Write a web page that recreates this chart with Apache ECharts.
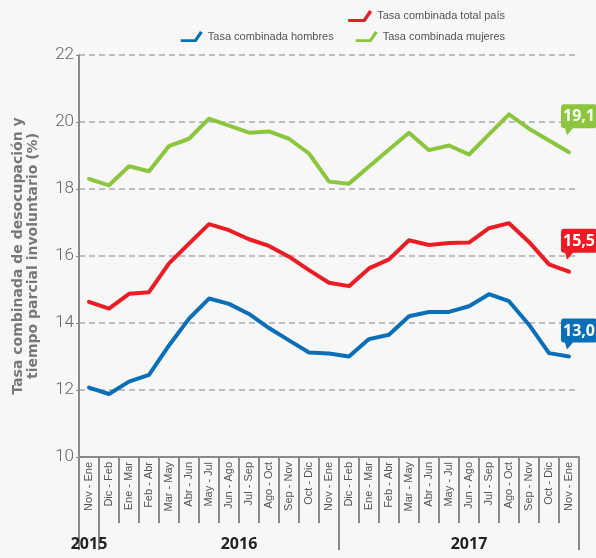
<!DOCTYPE html>
<html lang="es">
<head>
    <meta charset="UTF-8">
    <title>Tasa combinada</title>
    <script type="text/javascript" src="https://cdn.jsdelivr.net/npm/echarts@6/dist/echarts.min.js"></script>
    <style>
        html, body { margin: 0; padding: 0; background: #f7f7f7; }
        #chart { width: 596px; height: 558px; }
    </style>
</head>
<body>
<div id="chart"></div>
<script type="text/javascript">
    // periodos moviles (trimestres)
    var periodos = ['Nov - Ene', 'Dic - Feb', 'Ene - Mar', 'Feb - Abr', 'Mar - May', 'Abr - Jun', 'May - Jul',
        'Jun - Ago', 'Jul - Sep', 'Ago - Oct', 'Sep - Nov', 'Oct - Dic', 'Nov - Ene',
        'Dic - Feb', 'Ene - Mar', 'Feb - Abr', 'Mar - May', 'Abr - Jun', 'May - Jul',
        'Jun - Ago', 'Jul - Sep', 'Ago - Oct', 'Sep - Nov', 'Oct - Dic', 'Nov - Ene'];

    var total = [14.63, 14.43, 14.87, 14.92, 15.78, 16.37, 16.95, 16.77, 16.5, 16.3, 15.98, 15.58, 15.2,
        15.1, 15.63, 15.9, 16.47, 16.33, 16.39, 16.4, 16.83, 16.98, 16.42, 15.75, 15.53];
    var hombres = [12.07, 11.88, 12.25, 12.45, 13.33, 14.13, 14.73, 14.57, 14.27, 13.85, 13.48, 13.12, 13.09,
        13.0, 13.52, 13.65, 14.2, 14.33, 14.33, 14.5, 14.86, 14.65, 13.95, 13.1, 13.0];
    var mujeres = [18.3, 18.11, 18.68, 18.53, 19.28, 19.5, 20.1, 19.89, 19.68, 19.72, 19.5, 19.06, 18.22,
        18.16, 18.67, 19.18, 19.68, 19.16, 19.3, 19.03, 19.63, 20.23, 19.8, 19.45, 19.1];

    var years = ['2015', '2016', '2017'];
    var yearStart = [0, 1, 13];   // indice donde empieza cada año
    var yearLabelAt = [0, 7, 19]; // indice donde va el texto del año

    var gris = '#8a8a8a';
    var fuenteAngosta = '"Liberation Sans Narrow", "Liberation Sans", sans-serif';

    var yearRow = periodos.map(function (p, i) {
        var k = yearLabelAt.indexOf(i);
        return k >= 0 ? years[k] : '';
    });

    // globo con cola abajo a la izquierda
    var globo = 'path://M3,0 H33 Q36,0 36,3 V21 Q36,24 33,24 H12 L6,31 L4,24 H3 Q0,24 0,21 V3 Q0,0 3,0 Z';
    var iconoLinea = 'path://M0,10 L15,10 L21,1 L24,3 L17,13 L0,13 Z';

    function etiquetaFinal(data, tip) {
        var last = data.length - 1;
        return {
            symbol: globo,
            symbolSize: [36, 31],
            symbolKeepAspect: false,
            symbolOffset: [10, -15.5 - tip],
            label: {
                show: true,
                color: '#fff',
                fontWeight: 'bold',
                fontSize: 16,
                fontFamily: '"Open Sans", sans-serif',
                offset: [0, -3],
                formatter: function (p) {
                    return p.value.toFixed(1).replace('.', ',');
                }
            },
            data: [{coord: [last, data[last]], value: data[last]}]
        };
    }

    var chart = echarts.init(document.getElementById('chart'));
    var option = {
        backgroundColor: '#f7f7f7',
        animation: false,
        legend: [{
            data: [{name: 'Tasa combinada total país', icon: iconoLinea}],
            right: 86,
            top: 5,
            itemWidth: 24,
            itemHeight: 13,
            textStyle: {color: '#555', fontSize: 11, fontFamily: fuenteAngosta}
        }, {
            data: [{name: 'Tasa combinada hombres', icon: iconoLinea}, {name: 'Tasa combinada mujeres', icon: iconoLinea}],
            right: 86,
            top: 26,
            itemGap: 22,
            itemWidth: 22,
            itemHeight: 13,
            textStyle: {color: '#555', fontSize: 11, fontFamily: fuenteAngosta}
        }],
        grid: {left: 79, right: 17, top: 55, bottom: 101},
        xAxis: [{
            type: 'category',
            data: periodos,
            boundaryGap: true,
            axisLine: {lineStyle: {color: gris, width: 2}},
            axisTick: {show: true, interval: 0, length: 66, lineStyle: {color: gris, width: 2}},
            axisLabel: {
                interval: 0,
                rotate: 90,
                margin: 5,
                color: '#555',
                fontSize: 11,
                fontFamily: fuenteAngosta
            }
        }, {
            type: 'category',
            data: yearRow,
            position: 'bottom',
            offset: 66,
            boundaryGap: true,
            axisLine: {show: false},
            axisTick: {
                show: true,
                length: 27,
                interval: function (i) { return yearStart.indexOf(i) >= 0; },
                lineStyle: {color: gris, width: 2}
            },
            axisLabel: {
                interval: 0,
                margin: 13,
                color: '#222',
                fontSize: 16,
                fontWeight: 'bold',
                fontFamily: '"Open Sans", sans-serif',
                formatter: function (v) {
                    return v === '2016' ? '{r|' + v + '}' : v;
                },
                rich: {
                    r: {padding: [0, 0, 0, 20], color: '#222', fontSize: 16, fontWeight: 'bold', fontFamily: '"Open Sans", sans-serif'}
                }
            }
        }],
        yAxis: {
            type: 'value',
            min: 10,
            max: 22,
            interval: 2,
            name: 'Tasa combinada de desocupación y\ntiempo parcial involuntario (%)',
            nameLocation: 'middle',
            nameGap: 38,
            nameTextStyle: {color: '#777', fontSize: 14, fontWeight: 'bold', fontFamily: '"DejaVu Sans", sans-serif', lineHeight: 15},
            axisLine: {show: true, lineStyle: {color: gris, width: 2}},
            axisTick: {show: true, length: 3, lineStyle: {color: gris, width: 1}},
            axisLabel: {color: '#666', fontSize: 17, fontWeight: 300, fontFamily: 'Roboto, sans-serif', margin: 5},
            splitLine: {lineStyle: {color: '#aaa', width: 1.5, type: [6, 4]}}
        },
        series: [{
            name: 'Tasa combinada total país',
            type: 'line',
            data: total,
            showSymbol: false,
            color: '#ec1c24',
            lineStyle: {width: 4, join: 'round', cap: 'round'},
            markPoint: etiquetaFinal(total, 12)
        }, {
            name: 'Tasa combinada hombres',
            type: 'line',
            data: hombres,
            showSymbol: false,
            color: '#0b6fb8',
            lineStyle: {width: 4, join: 'round', cap: 'round'},
            markPoint: etiquetaFinal(hombres, 7)
        }, {
            name: 'Tasa combinada mujeres',
            type: 'line',
            data: mujeres,
            showSymbol: false,
            color: '#8cc63f',
            lineStyle: {width: 4, join: 'round', cap: 'round'},
            markPoint: etiquetaFinal(mujeres, 17)
        }]
    };
    chart.setOption(option);
</script>
</body>
</html>
